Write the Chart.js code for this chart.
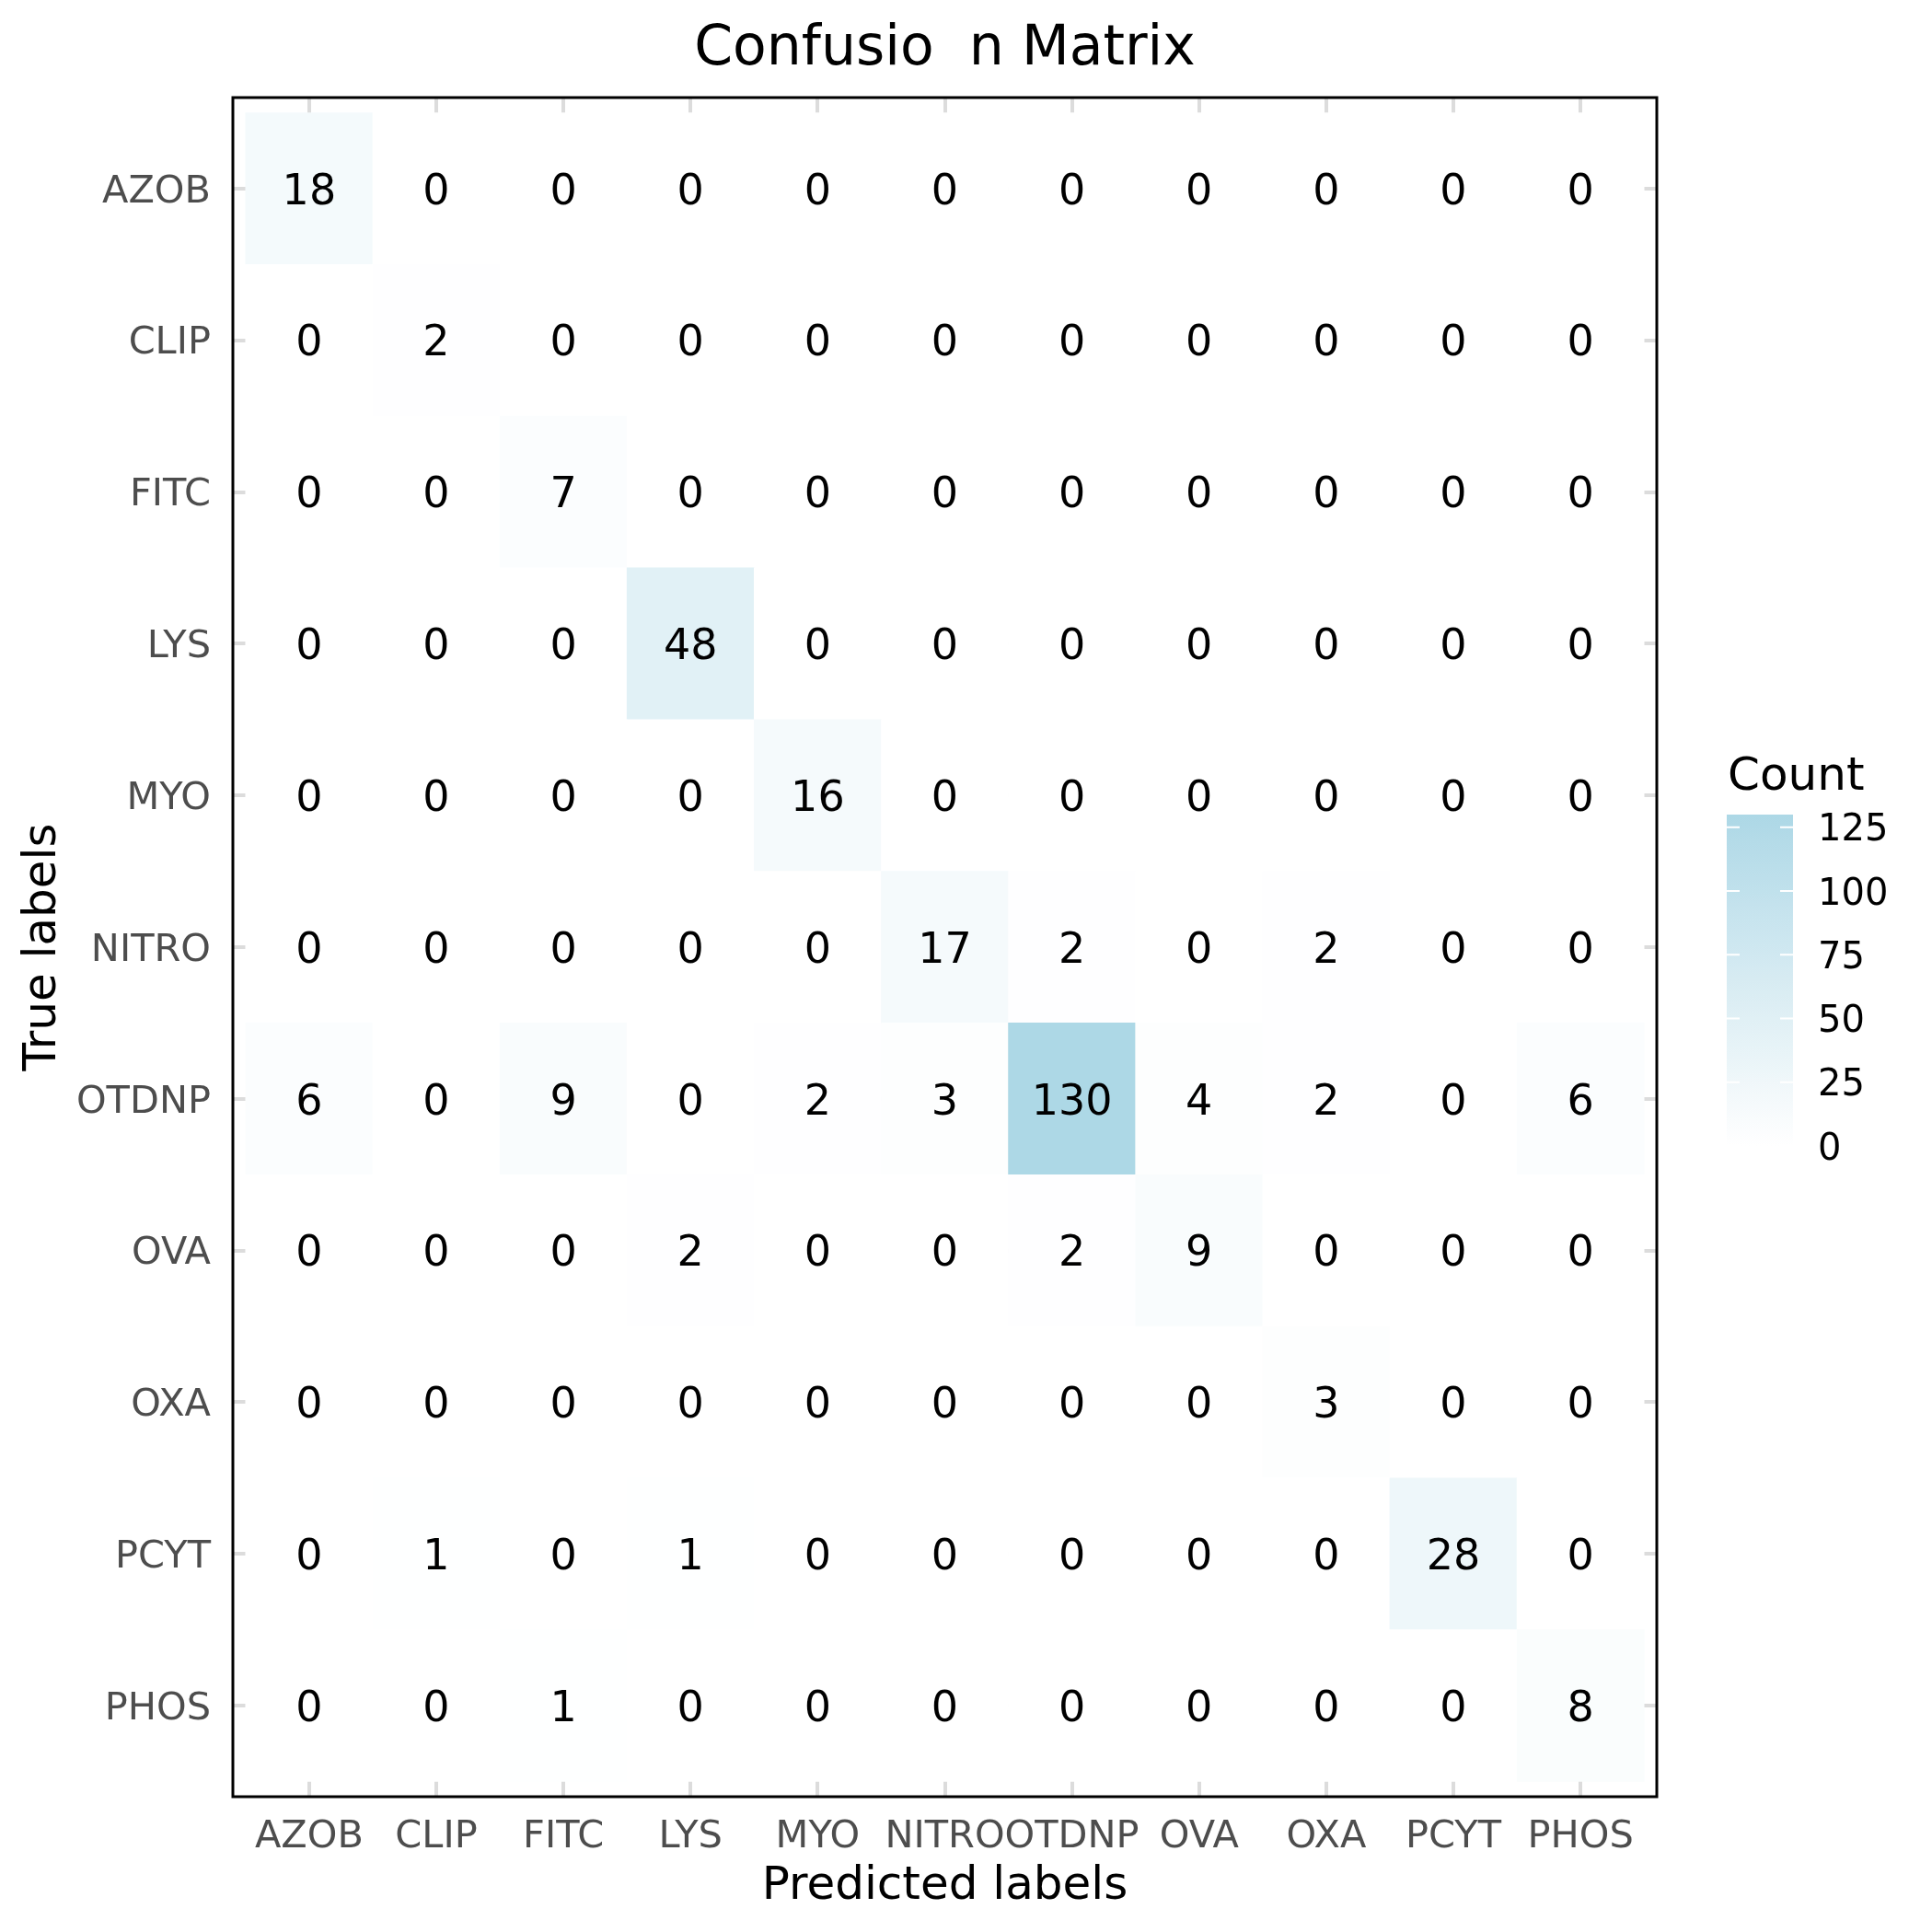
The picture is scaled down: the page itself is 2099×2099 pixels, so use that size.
<!DOCTYPE html>
<html><head><meta charset="utf-8">
<script src="https://cdn.jsdelivr.net/npm/chart.js@4.4.1/dist/chart.umd.min.js"></script>
<style>html,body{margin:0;padding:0;background:#fff}canvas{display:block}</style>
</head><body>
<canvas id="c" width="2099" height="2099"></canvas>
<script>
// ---------- data ----------
const titleText = "Confusio  n Matrix";
const xTitle = "Predicted labels";
const yTitle = "True labels";
const legendTitle = "Count";
const predictedLabels = ["AZOB","CLIP","FITC","LYS","MYO","NITRO","OTDNP","OVA","OXA","PCYT","PHOS"];
const trueLabels      = ["AZOB","CLIP","FITC","LYS","MYO","NITRO","OTDNP","OVA","OXA","PCYT","PHOS"];
const rowAZOB  = [18,0,0,0,0,0,0,0,0,0,0];
const rowCLIP  = [0,2,0,0,0,0,0,0,0,0,0];
const rowFITC  = [0,0,7,0,0,0,0,0,0,0,0];
const rowLYS   = [0,0,0,48,0,0,0,0,0,0,0];
const rowMYO   = [0,0,0,0,16,0,0,0,0,0,0];
const rowNITRO = [0,0,0,0,0,17,2,0,2,0,0];
const rowOTDNP = [6,0,9,0,2,3,130,4,2,0,6];
const rowOVA   = [0,0,0,2,0,0,2,9,0,0,0];
const rowOXA   = [0,0,0,0,0,0,0,0,3,0,0];
const rowPCYT  = [0,1,0,1,0,0,0,0,0,28,0];
const rowPHOS  = [0,0,1,0,0,0,0,0,0,0,8];
const counts = [rowAZOB,rowCLIP,rowFITC,rowLYS,rowMYO,rowNITRO,rowOTDNP,rowOVA,rowOXA,rowPCYT,rowPHOS];
const legendTicks = [0,25,50,75,100,125];
const colorMin = 0;
const colorMax = 130;

// ---------- colour (CIELAB interpolation white -> lightblue) ----------
function s2l(c){c/=255;return c<=0.04045?c/12.92:Math.pow((c+0.055)/1.055,2.4);}
function l2s(c){const v=c<=0.0031308?12.92*c:1.055*Math.pow(c,1/2.4)-0.055;return Math.round(Math.max(0,Math.min(1,v))*255);}
function rgbToLab(rgb){
  const R=s2l(rgb[0]),G=s2l(rgb[1]),B=s2l(rgb[2]);
  const X=(0.4124564*R+0.3575761*G+0.1804375*B)/0.95047;
  const Y=(0.2126729*R+0.7151522*G+0.0721750*B);
  const Z=(0.0193339*R+0.1191920*G+0.9503041*B)/1.08883;
  const f=t=>t>216/24389?Math.cbrt(t):(24389/27*t+16)/116;
  const fx=f(X),fy=f(Y),fz=f(Z);
  return [116*fy-16,500*(fx-fy),200*(fy-fz)];
}
function labToRgb(lab){
  const fy=(lab[0]+16)/116, fx=fy+lab[1]/500, fz=fy-lab[2]/200;
  const fi=t=>t*t*t>216/24389?t*t*t:(116*t-16)/(24389/27);
  const X=fi(fx)*0.95047, Y=fi(fy), Z=fi(fz)*1.08883;
  const R= 3.2404542*X-1.5371385*Y-0.4985314*Z;
  const G=-0.9692660*X+1.8760108*Y+0.0415560*Z;
  const B= 0.0556434*X-0.2040259*Y+1.0572252*Z;
  return [l2s(R),l2s(G),l2s(B)];
}
const labLow = rgbToLab([255,255,255]);
const labHigh = rgbToLab([173,216,230]);
function fillFor(v){
  const t=Math.max(0,Math.min(1,(v-colorMin)/(colorMax-colorMin)));
  const c=labToRgb([0,1,2].map(k=>labLow[k]+(labHigh[k]-labLow[k])*t));
  return `rgb(${c[0]},${c[1]},${c[2]})`;
}

// ---------- points ----------
const points=[];
counts.forEach((row,i)=>row.forEach((v,j)=>points.push({x:j,y:[i-0.5,i+0.5],v:v})));

const FONT="'DejaVu Sans', sans-serif";
const CAP=0.3645; // half cap-height of DejaVu Sans, in em

const overlay={
  id:'overlay',
  afterDatasetsDraw(chart){
    const ctx=chart.ctx, ca=chart.chartArea;
    ctx.save();
    // cell values
    ctx.fillStyle='#000';
    ctx.font=`46px ${FONT}`;
    ctx.textAlign='center';
    ctx.textBaseline='alphabetic';
    const meta=chart.getDatasetMeta(0);
    meta.data.forEach((el,k)=>{
      const p=el.getProps(['x','y','base'],true);
      ctx.fillText(String(points[k].v),p.x,(p.y+p.base)/2+CAP*46);
    });
    // panel border
    ctx.strokeStyle='#000';
    ctx.lineWidth=3;
    ctx.strokeRect(ca.left,ca.top,ca.right-ca.left,ca.bottom-ca.top);
    // title
    ctx.font=`60px ${FONT}`;
    ctx.textAlign='center';
    ctx.fillText(titleText,(ca.left+ca.right)/2,48+CAP*60);
    // colour bar
    const bx=1876,bw=72,bBottom=1245,bH=360;
    const yFor=v=>bBottom-(v-colorMin)/(colorMax-colorMin)*bH;
    const g=ctx.createLinearGradient(0,yFor(colorMin),0,yFor(colorMax));
    for(let s=0;s<=26;s++){const v=colorMin+(colorMax-colorMin)*s/26;g.addColorStop(s/26,fillFor(v));}
    ctx.fillStyle=g;
    ctx.fillRect(bx,yFor(colorMax),bw,bH);
    ctx.strokeStyle='#fff';
    ctx.lineWidth=2;
    legendTicks.forEach(v=>{
      const y=yFor(v);
      ctx.beginPath();
      ctx.moveTo(bx,y);ctx.lineTo(bx+14,y);
      ctx.moveTo(bx+bw-14,y);ctx.lineTo(bx+bw,y);
      ctx.stroke();
    });
    ctx.fillStyle='#000';
    ctx.font=`40px ${FONT}`;
    ctx.textAlign='left';
    legendTicks.forEach(v=>ctx.fillText(String(v),1975,yFor(v)+CAP*40));
    ctx.font=`50px ${FONT}`;
    ctx.fillText(legendTitle,1877,840+CAP*50);
    ctx.restore();
  }
};

new Chart(document.getElementById('c'),{
  type:'bar',
  data:{datasets:[{
    data:points,
    backgroundColor:ctx=>fillFor(ctx.raw?ctx.raw.v:0),
    borderWidth:0,
    barPercentage:1,
    categoryPercentage:1,
    grouped:false
  }]},
  options:{
    responsive:false,
    animation:false,
    devicePixelRatio:1,
    layout:{padding:{top:106,right:299,bottom:0,left:0}},
    plugins:{legend:{display:false},tooltip:{enabled:false},title:{display:false}},
    scales:{
      x:{
        type:'linear',min:-0.6,max:10.6,position:'bottom',offset:false,
        grid:{color:'#DCDCDC',lineWidth:4,drawTicks:false,offset:false},
        border:{display:false},
        afterBuildTicks:s=>{s.ticks=predictedLabels.map((_,i)=>({value:i}));},
        afterFit:s=>{s.height=147;},
        ticks:{autoSkip:false,maxRotation:0,minRotation:0,padding:19,color:'#4D4D4D',
          font:{family:FONT,size:41.5},callback:v=>predictedLabels[v]},
        title:{display:true,text:xTitle,color:'#000',font:{family:FONT,size:50},padding:{top:0,bottom:19}}
      },
      y:{
        type:'linear',min:-0.6,max:10.6,reverse:true,offset:false,
        grid:{color:'#DCDCDC',lineWidth:4,drawTicks:false,offset:false},
        border:{display:false},
        afterBuildTicks:s=>{s.ticks=trueLabels.map((_,i)=>({value:i}));},
        afterFit:s=>{s.width=253;},
        ticks:{autoSkip:false,padding:24,labelOffset:4,color:'#4D4D4D',
          font:{family:FONT,size:41.5},callback:v=>trueLabels[v]},
        title:{display:true,text:yTitle,color:'#000',font:{family:FONT,size:50},padding:{top:17,bottom:0}}
      }
    }
  },
  plugins:[overlay]
});
</script>
</body></html>
